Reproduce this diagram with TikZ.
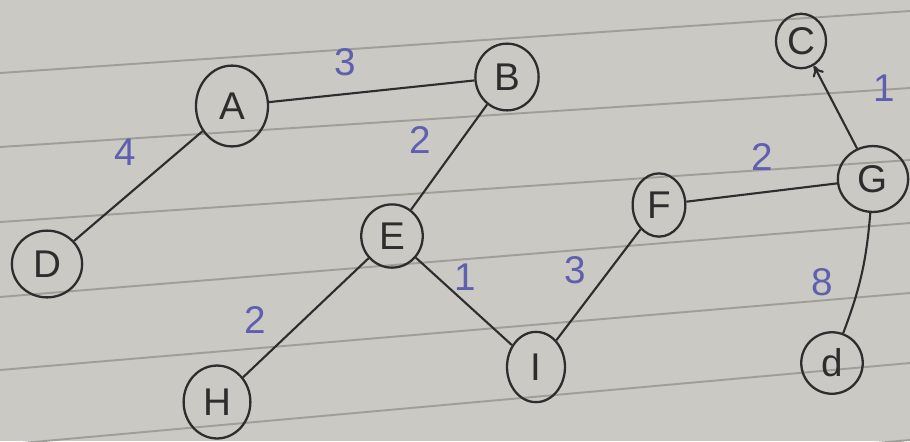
\documentclass[tikz,border=0pt]{standalone}
\usepackage{fontspec}
\setmainfont{Liberation Sans}
\usetikzlibrary{shapes.geometric,arrows.meta}
\definecolor{paper}{RGB}{203,201,195}
\definecolor{ruleline}{RGB}{160,158,153}
\definecolor{ink}{RGB}{45,45,45}
\definecolor{wt}{RGB}{95,95,175}
\begin{document}
\begin{tikzpicture}[x=0.02cm,y=-0.02cm,
  vtx/.style={draw=ink,line width=1.3pt,ellipse,inner sep=0pt,text=ink,font=\fontsize{22}{26}\selectfont},
  edge/.style={draw=ink,line width=1.2pt},
  wlabel/.style={text=wt,font=\fontsize{22}{26}\selectfont},
  paperline/.style={draw=ruleline,line width=1.1pt}]
\fill[paper] (0,0) rectangle (910,441);
\useasboundingbox (0,0) rectangle (910,441);
% ruled paper lines
\draw[paperline] (0,73) -- (910,11);
\draw[paperline] (0,147) -- (910,88);
\draw[paperline] (0,222) -- (910,160);
\draw[paperline] (0,297) -- (910,223);
\draw[paperline] (0,370) -- (910,293);
\draw[paperline] (0,445) -- (910,363);
\draw[paperline] (0,520) -- (910,440);
% vertices
\node[vtx,minimum width=41pt,minimum height=46pt] (A) at (232,106) {A};
\node[vtx,minimum width=36pt,minimum height=38pt] (B) at (507,77) {B};
\node[vtx,minimum width=28.5pt,minimum height=31pt] (C) at (801,41) {C};
\node[vtx,minimum width=40pt,minimum height=37.5pt] (G) at (873,179) {G};
\node[vtx,minimum width=30pt,minimum height=36pt] (F) at (659,205) {F};
\node[vtx,minimum width=35pt,minimum height=36pt] (E) at (392,236) {E};
\node[vtx,minimum width=40pt,minimum height=38pt] (D) at (47,264) {D};
\node[vtx,minimum width=38pt,minimum height=41.5pt] (H) at (217,402) {H};
\node[vtx,minimum width=33pt,minimum height=40pt] (I) at (536,367) {I};
\node[vtx,minimum width=35pt,minimum height=35pt] (d) at (832,363) {d};
% edges
\draw[edge] (D) -- (A);
\draw[edge] (A) -- (B);
\draw[edge] (B) -- (E);
\draw[edge] (E) -- (H);
\draw[edge] (E) -- (I);
\draw[edge] (I) -- (F);
\draw[edge] (F) -- (G);
\draw[edge,-{To[length=6pt,width=7pt]}] (G) -- (C);
\draw[edge] (G) to[bend left=8] (d);
% weights
\node[wlabel] (w4) at (125,152) {4};
\node[wlabel] (w3a) at (345,62) {3};
\node[wlabel] (w2a) at (420,140) {2};
\node[wlabel] (w2b) at (255,320) {2};
\node[wlabel] (w1a) at (465,277) {1};
\node[wlabel] (w3b) at (575,270) {3};
\node[wlabel] (w2c) at (762,157) {2};
\node[wlabel] (w1b) at (884,88) {1};
\node[wlabel] (w8) at (822,282) {8};
\end{tikzpicture}
\end{document}
